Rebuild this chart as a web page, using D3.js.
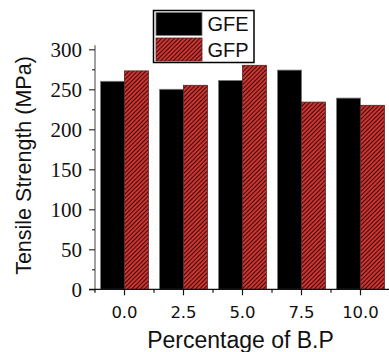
<!DOCTYPE html>
<html>
<head>
<meta charset="utf-8">
<script src="https://cdn.jsdelivr.net/npm/d3@7"></script>
<style>
  html, body { margin: 0; padding: 0; background: #fff; }
  svg { display: block; }
</style>
</head>
<body>
<svg id="chart" width="389" height="352"></svg>
<script>
// Tensile strength (MPa) by B.P content for two composites
const categories = ["0.0", "2.5", "5.0", "7.5", "10.0"];
const seriesNames = ["GFE", "GFP"];
const gfeValues = [260, 250, 261, 274, 239];
const gfpValues = [273, 255, 280, 234, 230];
const yTicks = [0, 50, 100, 150, 200, 250, 300];
const yMinorTicks = [25, 75, 125, 175, 225, 275];

const svg = d3.select("#chart");
const RED = "#cc3530";
const DARK = "#2a0606";

// Diagonal hatch fill for the GFP bars
const defs = svg.append("defs");
const pat = defs.append("pattern")
  .attr("id", "hatch")
  .attr("patternUnits", "userSpaceOnUse")
  .attr("width", 3).attr("height", 3)
  .attr("patternTransform", "rotate(45)");
pat.append("rect").attr("width", 3).attr("height", 3).attr("fill", RED);
pat.append("rect").attr("x", 0).attr("y", 0).attr("width", 0.9).attr("height", 3).attr("fill", DARK);

const plotLeft = 95, plotRight = 390, plotTop = 49.3, plotBottom = 289.3;

const x = d3.scaleBand().domain(categories)
  .range([plotLeft, plotRight]).paddingInner(0.19).paddingOuter(0.095);
const xs = d3.scaleBand().domain(seriesNames).range([0, x.bandwidth()]);
const y = d3.scaleLinear().domain([0, 300]).range([plotBottom, plotTop]);

const series = [
  { name: "GFE", values: gfeValues, fill: "#000", stroke: "#777" },
  { name: "GFP", values: gfpValues, fill: "url(#hatch)", stroke: "#5a2020" }
];

// Bars
series.forEach(s => {
  svg.append("g").selectAll("rect")
    .data(categories.map((c, i) => ({ c, v: s.values[i] })))
    .join("rect")
    .attr("x", d => x(d.c) + xs(s.name))
    .attr("y", d => y(d.v))
    .attr("width", xs.bandwidth())
    .attr("height", d => y(0) - y(d.v))
    .attr("fill", s.fill)
    .attr("stroke", s.stroke)
    .attr("stroke-width", 0.8);
});

// Y axis
const yAxis = svg.append("g").attr("transform", `translate(${plotLeft},0)`)
  .call(d3.axisLeft(y).tickValues(yTicks).tickSize(6).tickSizeOuter(0).tickPadding(7));
yAxis.select(".domain").attr("stroke", "#888").attr("stroke-width", 1.6)
  .attr("d", `M0,${plotBottom}V${plotTop - 4}`);
yAxis.selectAll(".tick line").attr("stroke", "#333").attr("stroke-width", 1.2);
yAxis.selectAll(".tick text")
  .attr("font-family", "'Liberation Serif', 'Times New Roman', serif")
  .attr("font-size", 21).attr("fill", "#111");
svg.append("g").attr("transform", `translate(${plotLeft},0)`)
  .call(d3.axisLeft(y).tickValues(yMinorTicks).tickSize(3).tickFormat(""))
  .call(g => g.select(".domain").remove())
  .selectAll(".tick line").attr("stroke", "#333").attr("stroke-width", 1.2);

// X axis
const xAxis = svg.append("g").attr("transform", `translate(0,${plotBottom})`)
  .call(d3.axisBottom(x).tickSize(6).tickSizeOuter(0).tickPadding(11));
xAxis.select(".domain").attr("stroke", "#111").attr("stroke-width", 1.3)
  .attr("d", `M${plotLeft - 6},0H${plotRight}`);
xAxis.selectAll(".tick line").attr("stroke", "#111").attr("stroke-width", 1.2);
xAxis.selectAll(".tick text")
  .attr("font-family", "'DejaVu Sans', sans-serif")
  .attr("font-size", 16.5).attr("fill", "#111");
// Minor ticks at the band boundaries
const boundaries = categories.map(c => x(c) - x.step() * x.paddingInner() / 2);
svg.append("g").selectAll("line")
  .data(boundaries)
  .join("line")
  .attr("x1", d => d).attr("x2", d => d)
  .attr("y1", plotBottom).attr("y2", plotBottom + 3.5)
  .attr("stroke", "#111").attr("stroke-width", 1.2);

// Axis titles
svg.append("text")
  .attr("transform", `translate(31,${(58 + 273) / 2}) rotate(-90)`)
  .attr("text-anchor", "middle")
  .attr("font-family", "'Liberation Sans', Arial, sans-serif")
  .attr("font-size", 21.5).attr("fill", "#111")
  .text("Tensile Strength (MPa)");
svg.append("text")
  .attr("x", 240.5).attr("y", 348)
  .attr("text-anchor", "middle")
  .attr("font-family", "'Liberation Sans', Arial, sans-serif")
  .attr("font-size", 23).attr("fill", "#111")
  .text("Percentage of B.P");

// Legend
const legend = svg.append("g");
legend.append("rect")
  .attr("x", 153.5).attr("y", 10.5).attr("width", 100.5).attr("height", 52)
  .attr("fill", "#fff").attr("stroke", "#000").attr("stroke-width", 1.5);
series.forEach((s, i) => {
  legend.append("rect")
    .attr("x", 156).attr("y", 12.5 + i * 25.5)
    .attr("width", 46).attr("height", 23)
    .attr("fill", s.fill).attr("stroke", s.stroke).attr("stroke-width", 0.8);
  legend.append("text")
    .attr("x", 207.5).attr("y", 31 + i * 25.7)
    .attr("font-family", "'Liberation Sans', Arial, sans-serif")
    .attr("font-size", 20).attr("fill", "#111")
    .text(s.name);
});
</script>
</body>
</html>
